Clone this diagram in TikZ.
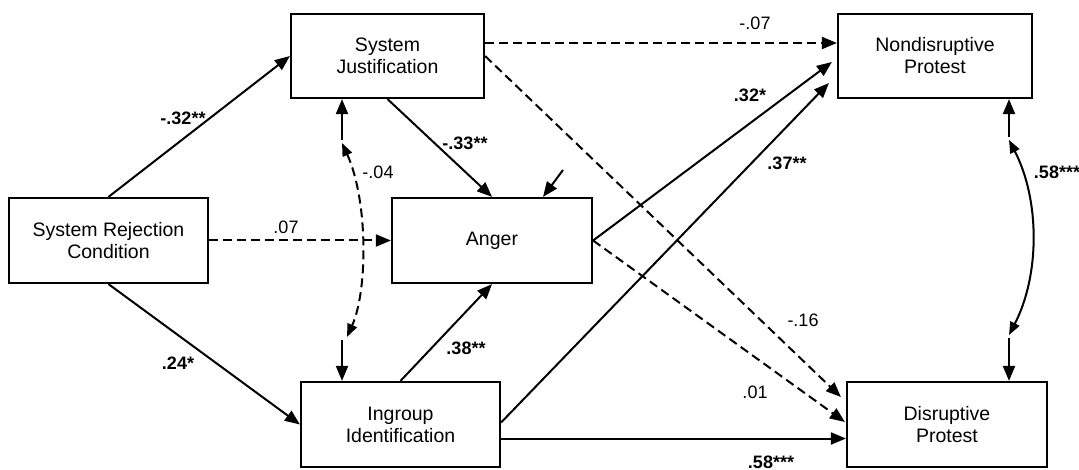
\documentclass[tikz,border=0pt]{standalone}
\usepackage{fontspec}
\setmainfont{Liberation Sans}
\usetikzlibrary{arrows.meta,calc}
\begin{document}
\begin{tikzpicture}[x=1pt,y=-1pt,
  box/.style={draw,line width=2.2pt,inner sep=0pt,align=center,font=\fontsize{19.5}{22}\selectfont},
  conn/.style={line width=2pt,-{Triangle[length=15pt,width=12pt]}},
  ns/.style={conn,dash pattern=on 9pt off 5pt},
  stub/.style={line width=2pt,-{Triangle[length=15pt,width=12pt]}},
  twoway/.style={line width=2pt,{Triangle[length=13pt,width=10pt]}-{Triangle[length=13pt,width=10pt]}},
  lab/.style={inner sep=0pt,font=\fontsize{18}{20}\selectfont},
  blab/.style={inner sep=0pt,font=\fontsize{18}{20}\selectfont\bfseries},
  ]
\useasboundingbox (0,0) rectangle (1079,470);
% boxes
\node[box,minimum width=199pt,minimum height=85pt] (src) at (108.5,240.5) {System Rejection\\Condition};
\node[box,minimum width=193pt,minimum height=84pt] (sj) at (387.5,56) {System\\Justification};
\node[box,minimum width=200pt,minimum height=85pt] (anger) at (492,240.5) {Anger};
\node[box,minimum width=199pt,minimum height=85pt] (ig) at (400.5,424.5) {Ingroup\\Identification};
\node[box,minimum width=194pt,minimum height=84pt] (nd) at (935,56) {Nondisruptive\\Protest};
\node[box,minimum width=200pt,minimum height=85pt] (d) at (947,424.5) {Disruptive\\Protest};
% free coordinates
\coordinate (err) at (563,170);
\coordinate (sjstub) at (342,140);
\coordinate (c1) at (342,143);
\coordinate (c2) at (347,337);
\coordinate (igstub) at (342,340);
\coordinate (ndstub) at (1009,137);
\coordinate (r1) at (1009,140);
\coordinate (r2) at (1009,335);
\coordinate (dstub) at (1009,338);
% paths
\draw[conn] (src.north) -- (sj.west);
\draw[conn] (src.south) -- (ig.west);
\draw[ns] (src.east) -- (anger.west);
\draw[conn] (sj.south) -- (anger.north);
\draw[conn] (ig.north) -- (anger.south);
\draw[conn] (err) -- ($(anger.north)+(51,0)$);
\draw[ns] ($(sj.east)+(0,-13)$) -- ($(nd.west)+(0,-13)$);
\draw[ns] (sj.east) -- ($(d.west)+(-5,-27.5)$);
\draw[ns] (anger.east) -- ($(d.west)+(-1,-2.5)$);
\draw[conn] (anger.east) -- ($(nd.west)+(-5,6)$);
\draw[conn] ($(ig.east)+(0,-2)$) -- ($(nd.west)+(-8,27)$);
\draw[conn] ($(ig.east)+(0,14)$) -- ($(d.west)+(0,14)$);
% correlations
\draw[stub] (sjstub) -- ($(sj.south)+(-45.5,0)$);
\draw[twoway,dash pattern=on 9pt off 5pt] (c1) .. controls (368,200) and (368,290) .. (c2);
\draw[stub] (igstub) -- ($(ig.north)+(-58.5,0)$);
\draw[stub] (ndstub) -- ($(nd.south)+(74,0)$);
\draw[twoway] (r1) .. controls (1040,200) and (1040,275) .. (r2);
\draw[stub] (dstub) -- ($(d.north)+(62,0)$);
% labels
\node[blab] (l1) at (183,118) {-.32**};
\node[blab] (l2) at (178,363) {.24*};
\node[lab] (l3) at (286,227) {.07};
\node[blab] (l4) at (465,143) {-.33**};
\node[lab] (l5) at (378,172) {-.04};
\node[blab] (l6) at (466,348) {.38**};
\node[lab] (l7) at (755,23) {-.07};
\node[blab] (l8) at (750,95) {.32*};
\node[blab] (l9) at (787,163) {.37**};
\node[lab] (l10) at (803,320) {-.16};
\node[lab] (l11) at (755,392) {.01};
\node[blab] (l12) at (771,462) {.58***};
\node[blab] (l13) at (1057,172) {.58***};
\end{tikzpicture}
\end{document}
